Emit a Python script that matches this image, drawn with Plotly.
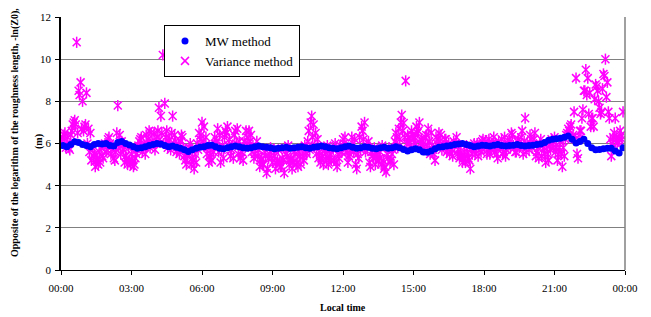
import plotly.graph_objects as go

# ---------------- data ----------------
tick_hours = [0, 3, 6, 9, 12, 15, 18, 21, 24]
tick_labels = ["00:00", "03:00", "06:00", "09:00", "12:00", "15:00", "18:00", "21:00", "00:00"]

# MW method: one value every 10 min starting 00:05 (rows = hours)
mw_start_min, mw_step_min = 5, 10
mw_values = [
    5.90, 5.85, 5.95, 6.08, 6.05, 5.95,
    5.90, 5.85, 5.95, 6.00, 5.98, 6.00,
    5.90, 5.88, 6.05, 6.10, 6.00, 5.93,
    5.85, 5.78, 5.80, 5.85, 5.90, 5.95,
    6.00, 5.98, 5.90, 5.85, 5.88, 5.82,
    5.78, 5.70, 5.62, 5.70, 5.78, 5.82,
    5.85, 5.90, 5.92, 5.85, 5.78, 5.75,
    5.80, 5.85, 5.88, 5.85, 5.80, 5.78,
    5.80, 5.85, 5.88, 5.85, 5.82, 5.80,
    5.75, 5.78, 5.80, 5.82, 5.78, 5.80,
    5.82, 5.85, 5.80, 5.78, 5.82, 5.85,
    5.88, 5.85, 5.80, 5.78, 5.75, 5.80,
    5.85, 5.88, 5.82, 5.78, 5.80, 5.85,
    5.82, 5.78, 5.75, 5.80, 5.82, 5.78,
    5.80, 5.85, 5.80, 5.72, 5.65, 5.70,
    5.75, 5.70, 5.60, 5.58, 5.65, 5.75,
    5.82, 5.85, 5.88, 5.90, 5.95, 5.98,
    6.00, 5.95, 5.90, 5.85, 5.88, 5.92,
    5.90, 5.88, 5.92, 5.95, 5.90, 5.88,
    5.90, 5.92, 5.95, 5.90, 5.88, 5.90,
    5.92, 5.95, 5.98, 6.05, 6.15, 6.20,
    6.22, 6.25, 6.30, 6.35, 6.20, 6.02,
    6.10, 6.20, 6.00, 5.80, 5.70, 5.72,
    5.75, 5.78, 5.78, 5.65, 5.55, 5.80,
]

# Variance method, first pass: one value every 5 min starting 00:05 (rows = hours)
var_a_start_min, var_a_step_min = 5, 5
var_a_values = [
    6.3, 6.5, 6.0, 5.8, 6.4, 6.9, 7.1, 10.8, 8.5, 8.9, 8.0, 6.8,
    8.4, 6.7, 6.5, 5.8, 5.5, 5.2, 5.0, 5.1, 5.4, 5.9, 5.6, 6.2,
    6.0, 5.7, 5.3, 5.6, 7.8, 6.4, 6.1, 5.7, 5.4, 5.0, 5.2, 5.5,
    4.9, 5.3, 5.7, 6.1, 6.3, 5.8, 5.5, 6.0, 6.6, 6.5, 6.0, 5.7,
    6.3, 7.7, 7.3, 10.2, 7.9, 6.6, 6.1, 5.7, 7.3, 6.4, 5.6, 5.9,
    6.1, 6.3, 5.4, 5.0, 5.6, 6.0, 5.3, 4.8, 5.1, 5.7, 6.2, 7.0,
    6.8, 6.3, 5.8, 5.4, 5.2, 5.6, 6.0, 6.7, 6.4, 5.7, 5.3, 6.6,
    6.8, 6.2, 5.7, 5.3, 6.6, 6.7, 6.1, 5.6, 5.2, 5.8, 6.3, 6.6,
    6.4, 5.9, 5.5, 6.1, 5.7, 5.2, 5.0, 5.6, 4.6, 5.3, 5.8, 5.1,
    5.4, 5.1, 5.7, 4.9, 5.3, 4.6, 5.5, 5.9, 5.2, 4.8, 5.6, 5.0,
    4.9, 5.4, 5.8, 5.2, 5.6, 6.1, 5.7, 7.3, 6.9, 6.5, 6.2, 5.6,
    5.3, 5.0, 5.5, 5.9, 5.4, 5.2, 5.7, 6.0, 4.9, 5.3, 5.6, 6.2,
    6.3, 5.8, 5.4, 5.7, 6.0, 6.2, 4.8, 5.3, 5.7, 6.6, 7.0, 5.9,
    6.1, 4.9, 5.4, 5.8, 5.5, 5.2, 5.6, 5.9, 4.8, 4.65, 5.3, 5.1,
    5.5, 5.0, 6.5, 5.8, 6.2, 7.35, 6.97, 8.97, 6.4, 6.0, 6.6, 6.2,
    6.0, 6.5, 7.0, 6.2, 5.8, 6.3, 5.9, 6.1, 6.5, 5.7, 5.2, 6.0,
    6.5, 6.4, 5.9, 6.2, 5.6, 6.0, 5.8, 5.4, 5.9, 6.3, 5.7, 5.5,
    5.1, 5.6, 5.9, 5.3, 4.8, 5.5, 6.0, 5.8, 5.4, 5.7, 6.1, 5.9,
    6.1, 5.7, 5.5, 6.0, 6.3, 5.8, 5.3, 5.9, 6.2, 5.6, 5.4, 6.0,
    6.2, 6.5, 5.9, 5.6, 6.1, 5.8, 6.3, 5.5, 7.2, 6.0, 5.7, 6.2,
    6.0, 6.5, 5.6, 5.3, 6.2, 5.9, 5.5, 6.0, 5.2, 5.7, 6.1, 6.3,
    5.8, 5.5, 6.1, 4.9, 5.4, 6.4, 6.7, 6.8, 6.3, 7.5, 9.1, 5.3,
    6.6, 7.2, 8.5, 9.5, 9.1, 8.4, 7.2, 6.8, 8.8, 8.5, 7.7, 7.5,
    9.3, 10.0, 8.9, 7.2, 5.4, 6.3, 7.2, 6.0, 6.2, 6.4, 7.5,
]

# Variance method, second pass: one value every 5 min starting 00:02:30 (rows = hours)
var_b_start_min, var_b_step_min = 2.5, 5
var_b_values = [
    6.1, 6.4, 5.8, 6.3, 5.7, 6.6, 7.0, 6.9, 6.5, 8.3, 6.7, 6.6,
    6.9, 6.0, 5.6, 5.2, 5.4, 4.9, 5.3, 5.6, 5.8, 5.3, 6.0, 5.7,
    6.3, 5.5, 5.9, 5.2, 6.5, 5.8, 5.5, 5.9, 5.1, 5.3, 5.8, 5.0,
    5.2, 5.0, 5.5, 5.9, 6.2, 5.6, 5.9, 6.4, 6.2, 5.8, 6.1, 6.5,
    6.0, 6.6, 6.2, 6.5, 6.0, 6.3, 5.8, 6.2, 6.5, 5.9, 6.1, 5.7,
    5.5, 6.4, 5.8, 5.2, 5.4, 5.8, 5.0, 5.2, 5.5, 6.0, 6.5, 6.4,
    6.1, 5.9, 5.5, 5.1, 5.5, 5.9, 6.3, 6.1, 5.6, 5.1, 5.9, 6.3,
    6.5, 5.9, 5.4, 5.9, 6.4, 6.0, 5.5, 5.3, 5.6, 6.1, 6.6, 6.0,
    6.1, 5.6, 5.3, 5.8, 5.4, 4.9, 5.3, 5.0, 5.4, 4.8, 5.5, 5.3,
    5.7, 4.8, 5.2, 5.1, 4.9, 5.2, 5.8, 5.4, 5.0, 5.3, 5.1, 5.5,
    5.1, 5.6, 5.0, 5.4, 5.9, 5.5, 6.6, 7.0, 6.3, 5.9, 5.5, 5.3,
    5.1, 5.4, 5.7, 5.2, 5.0, 5.5, 5.8, 5.2, 5.1, 5.5, 5.9, 5.6,
    6.0, 5.6, 5.1, 5.5, 6.3, 5.6, 5.0, 5.5, 6.3, 6.8, 6.2, 5.6,
    5.8, 5.1, 5.6, 5.3, 5.0, 5.5, 5.3, 5.0, 5.2, 4.9, 5.5, 5.8,
    5.2, 5.7, 6.1, 6.3, 6.7, 7.0, 6.6, 6.3, 6.0, 6.3, 5.9, 6.4,
    6.3, 6.8, 6.6, 6.0, 6.1, 5.7, 6.4, 6.7, 5.5, 5.9, 5.5, 6.3,
    6.2, 6.1, 5.7, 5.9, 6.2, 5.7, 5.5, 5.7, 6.1, 6.0, 5.5, 5.3,
    5.4, 5.3, 5.1, 5.6, 5.2, 5.7, 5.8, 5.5, 6.0, 5.9, 5.6, 6.2,
    5.9, 5.5, 6.2, 5.7, 6.0, 5.6, 5.5, 6.1, 5.8, 5.5, 6.3, 5.7,
    6.0, 5.8, 6.4, 5.8, 5.6, 6.2, 5.9, 6.6, 6.1, 5.6, 5.9, 6.4,
    5.8, 6.2, 5.4, 5.8, 6.0, 5.4, 5.8, 5.1, 5.5, 5.9, 6.2, 5.8,
    5.6, 5.2, 5.8, 5.5, 5.8, 6.2, 6.5, 6.6, 6.9, 6.4, 6.2, 5.5,
    6.2, 6.6, 7.6, 8.5, 8.3, 7.4, 6.8, 7.2, 8.1, 8.7, 8.0, 7.4,
    8.6, 9.2, 8.2, 7.5, 6.2, 6.0, 6.5, 6.3, 6.1, 6.6, 6.2,
]

mw_hours = [(mw_start_min + mw_step_min * i) / 60 for i in range(len(mw_values))]
var_a_hours = [(var_a_start_min + var_a_step_min * i) / 60 for i in range(len(var_a_values))]
var_b_hours = [(var_b_start_min + var_b_step_min * i) / 60 for i in range(len(var_b_values))]
var_hours = var_a_hours + var_b_hours
var_values = var_a_values + var_b_values

MAGENTA = "#FF00FF"
BLUE = "#0000FF"
FONT = "Times New Roman, Liberation Serif, serif"

# plot area in pixels: left 61, right 625, top 17, bottom 270
PW, PH = 564, 253

fig = go.Figure()
fig.add_trace(go.Scatter(
    x=var_hours, y=var_values, mode="markers", name="Variance method",
    legendrank=2,
    marker=dict(symbol="x-thin-open", size=8, color=MAGENTA,
                line=dict(width=1.5, color=MAGENTA)),
))
fig.add_trace(go.Scatter(
    x=var_hours, y=var_values, mode="markers", showlegend=False,
    marker=dict(symbol="line-ns-open", size=8, color=MAGENTA,
                line=dict(width=1.5, color=MAGENTA)),
))
fig.add_trace(go.Scatter(
    x=mw_hours, y=mw_values, mode="markers", name="MW method",
    legendrank=1,
    marker=dict(symbol="circle", size=7, color=BLUE, line=dict(width=0)),
))

fig.update_layout(
    width=651, height=317,
    margin=dict(l=61, r=26, t=17, b=47, autoexpand=False),
    paper_bgcolor="white", plot_bgcolor="white",
    font=dict(family=FONT, size=11, color="black"),
    showlegend=True,
    legend=dict(
        x=(164 - 61) / PW, y=(270 - 25) / PH, xanchor="left", yanchor="top",
        bgcolor="white", bordercolor="black", borderwidth=1,
        font=dict(family=FONT, size=13, color="black"),
        itemwidth=30, traceorder="normal",
    ),
    xaxis=dict(
        range=[0, 24], tickvals=tick_hours, ticktext=tick_labels,
        showgrid=False, zeroline=False, automargin=False,
        showline=True, linecolor="black", linewidth=1,
        ticks="outside", ticklen=4, tickcolor="black",
        tickfont=dict(family=FONT, size=11), ticklabelstandoff=4,
    ),
    yaxis=dict(
        range=[0, 12], dtick=2, tick0=0, automargin=False,
        showgrid=True, gridcolor="#808080", gridwidth=1,
        zeroline=False,
        showline=True, linecolor="black", linewidth=1.5,
        ticks="outside", ticklen=4, tickcolor="black",
        tickfont=dict(family=FONT, size=11), ticklabelstandoff=2,
    ),
    shapes=[dict(type="line", xref="paper", yref="paper", x0=1, x1=1, y0=0, y1=1,
                 line=dict(color="#808080", width=1.5))],
    annotations=[
        dict(text="<b>Opposite of the logarithm of the roughness length, -ln(Z0),</b>",
             xref="paper", yref="paper", x=(15 - 61) / PW, y=(270 - 133) / PH,
             xanchor="center", yanchor="middle", textangle=-90, showarrow=False,
             font=dict(family=FONT, size=10)),
        dict(text="<b>(m)</b>",
             xref="paper", yref="paper", x=(39 - 61) / PW, y=(270 - 142) / PH,
             xanchor="center", yanchor="middle", textangle=-90, showarrow=False,
             font=dict(family=FONT, size=10)),
        dict(text="<b>Local time</b>",
             xref="paper", yref="paper", x=(343 - 61) / PW, y=(270 - 307) / PH,
             xanchor="center", yanchor="middle", showarrow=False,
             font=dict(family=FONT, size=10)),
    ],
)

fig.write_html("out.html", config={"displayModeBar": False},
               post_script="document.body.style.margin='0';")
